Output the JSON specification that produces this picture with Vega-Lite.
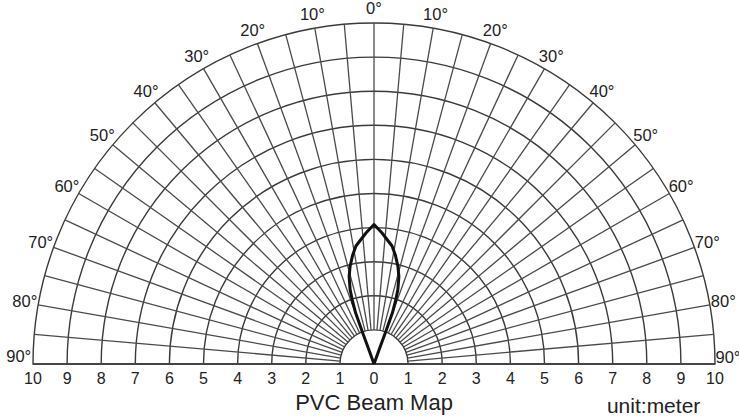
{
  "$schema": "https://vega.github.io/schema/vega-lite/v6.json",
  "width": 682,
  "height": 341,
  "autosize": {"type": "none"},
  "padding": {"left": 33, "top": 23, "right": 24, "bottom": 55},
  "background": "white",
  "config": {"view": {"stroke": null}},
  "layer": [
    {
      "data": {"values": [{"r": 1}, {"r": 2}, {"r": 3}, {"r": 4}, {"r": 5}, {"r": 6}, {"r": 7}, {"r": 8}, {"r": 9}, {"r": 10}]},
      "mark": {"type": "arc", "filled": false, "fill": null, "stroke": "#3a3a3a", "strokeWidth": 1.4, "theta": -1.5707963, "theta2": 1.5707963},
      "encoding": {
        "x": {"datum": 0, "type": "quantitative", "scale": {"domain": [-10, 10], "nice": false, "zero": false}, "axis": null},
        "y": {"datum": 0, "type": "quantitative", "scale": {"domain": [0, 10], "nice": false, "zero": false}, "axis": null},
        "radius": {"field": "r", "type": "quantitative", "stack": null, "scale": {"type": "linear", "domain": [0, 10], "range": [0, 341], "zero": true}, "legend": null}
      }
    },
    {
      "data": {"values": [
        {"a": -90, "x": -1, "y": 0, "x2": -10, "y2": 0},
        {"a": -85, "x": -0.99619, "y": 0.08716, "x2": -9.9619, "y2": 0.8716},
        {"a": -80, "x": -0.98481, "y": 0.17365, "x2": -9.8481, "y2": 1.7365},
        {"a": -75, "x": -0.96593, "y": 0.25882, "x2": -9.6593, "y2": 2.5882},
        {"a": -70, "x": -0.93969, "y": 0.34202, "x2": -9.3969, "y2": 3.4202},
        {"a": -65, "x": -0.90631, "y": 0.42262, "x2": -9.0631, "y2": 4.2262},
        {"a": -60, "x": -0.86603, "y": 0.5, "x2": -8.6603, "y2": 5},
        {"a": -55, "x": -0.81915, "y": 0.57358, "x2": -8.1915, "y2": 5.7358},
        {"a": -50, "x": -0.76604, "y": 0.64279, "x2": -7.6604, "y2": 6.4279},
        {"a": -45, "x": -0.70711, "y": 0.70711, "x2": -7.0711, "y2": 7.0711},
        {"a": -40, "x": -0.64279, "y": 0.76604, "x2": -6.4279, "y2": 7.6604},
        {"a": -35, "x": -0.57358, "y": 0.81915, "x2": -5.7358, "y2": 8.1915},
        {"a": -30, "x": -0.5, "y": 0.86603, "x2": -5, "y2": 8.6603},
        {"a": -25, "x": -0.42262, "y": 0.90631, "x2": -4.2262, "y2": 9.0631},
        {"a": -20, "x": -0.34202, "y": 0.93969, "x2": -3.4202, "y2": 9.3969},
        {"a": -15, "x": -0.25882, "y": 0.96593, "x2": -2.5882, "y2": 9.6593},
        {"a": -10, "x": -0.17365, "y": 0.98481, "x2": -1.7365, "y2": 9.8481},
        {"a": -5, "x": -0.08716, "y": 0.99619, "x2": -0.8716, "y2": 9.9619},
        {"a": 0, "x": 0, "y": 1, "x2": 0, "y2": 10},
        {"a": 5, "x": 0.08716, "y": 0.99619, "x2": 0.8716, "y2": 9.9619},
        {"a": 10, "x": 0.17365, "y": 0.98481, "x2": 1.7365, "y2": 9.8481},
        {"a": 15, "x": 0.25882, "y": 0.96593, "x2": 2.5882, "y2": 9.6593},
        {"a": 20, "x": 0.34202, "y": 0.93969, "x2": 3.4202, "y2": 9.3969},
        {"a": 25, "x": 0.42262, "y": 0.90631, "x2": 4.2262, "y2": 9.0631},
        {"a": 30, "x": 0.5, "y": 0.86603, "x2": 5, "y2": 8.6603},
        {"a": 35, "x": 0.57358, "y": 0.81915, "x2": 5.7358, "y2": 8.1915},
        {"a": 40, "x": 0.64279, "y": 0.76604, "x2": 6.4279, "y2": 7.6604},
        {"a": 45, "x": 0.70711, "y": 0.70711, "x2": 7.0711, "y2": 7.0711},
        {"a": 50, "x": 0.76604, "y": 0.64279, "x2": 7.6604, "y2": 6.4279},
        {"a": 55, "x": 0.81915, "y": 0.57358, "x2": 8.1915, "y2": 5.7358},
        {"a": 60, "x": 0.86603, "y": 0.5, "x2": 8.6603, "y2": 5},
        {"a": 65, "x": 0.90631, "y": 0.42262, "x2": 9.0631, "y2": 4.2262},
        {"a": 70, "x": 0.93969, "y": 0.34202, "x2": 9.3969, "y2": 3.4202},
        {"a": 75, "x": 0.96593, "y": 0.25882, "x2": 9.6593, "y2": 2.5882},
        {"a": 80, "x": 0.98481, "y": 0.17365, "x2": 9.8481, "y2": 1.7365},
        {"a": 85, "x": 0.99619, "y": 0.08716, "x2": 9.9619, "y2": 0.8716},
        {"a": 90, "x": 1, "y": 0, "x2": 10, "y2": 0}
      ]},
      "mark": {"type": "rule", "stroke": "#4a4a4a", "strokeWidth": 1.3},
      "encoding": {
        "x": {"field": "x", "type": "quantitative"},
        "y": {"field": "y", "type": "quantitative"},
        "x2": {"field": "x2"},
        "y2": {"field": "y2"}
      }
    },
    {
      "data": {"values": [{"x": -10, "x2": 10, "y": 0}]},
      "mark": {"type": "rule", "stroke": "#444", "strokeWidth": 1.5},
      "encoding": {
        "x": {"field": "x", "type": "quantitative"},
        "x2": {"field": "x2"},
        "y": {"field": "y", "type": "quantitative"}
      }
    },
    {
      "data": {"values": [
        {"o": 0, "x": 0, "y": 0},
        {"o": 1, "x": 0.15, "y": 0.42},
        {"o": 2, "x": 0.33, "y": 0.91},
        {"o": 3, "x": 0.54, "y": 1.5},
        {"o": 4, "x": 0.64, "y": 1.89},
        {"o": 5, "x": 0.7, "y": 2.18},
        {"o": 6, "x": 0.73, "y": 2.57},
        {"o": 7, "x": 0.7, "y": 2.87},
        {"o": 8, "x": 0.63, "y": 3.18},
        {"o": 9, "x": 0.53, "y": 3.46},
        {"o": 10, "x": 0.23, "y": 3.85},
        {"o": 11, "x": 0, "y": 4.09},
        {"o": 12, "x": -0.23, "y": 3.85},
        {"o": 13, "x": -0.53, "y": 3.46},
        {"o": 14, "x": -0.63, "y": 3.18},
        {"o": 15, "x": -0.7, "y": 2.87},
        {"o": 16, "x": -0.73, "y": 2.57},
        {"o": 17, "x": -0.7, "y": 2.18},
        {"o": 18, "x": -0.64, "y": 1.89},
        {"o": 19, "x": -0.54, "y": 1.5},
        {"o": 20, "x": -0.33, "y": 0.91},
        {"o": 21, "x": -0.15, "y": 0.42},
        {"o": 22, "x": 0, "y": 0}
      ]},
      "mark": {"type": "line", "stroke": "#111", "strokeWidth": 3, "strokeJoin": "round"},
      "encoding": {
        "x": {"field": "x", "type": "quantitative"},
        "y": {"field": "y", "type": "quantitative"},
        "order": {"field": "o", "type": "quantitative"}
      }
    },
    {
      "data": {"values": [
        {"x": -10, "t": "10"}, {"x": -9, "t": "9"}, {"x": -8, "t": "8"}, {"x": -7, "t": "7"}, {"x": -6, "t": "6"},
        {"x": -5, "t": "5"}, {"x": -4, "t": "4"}, {"x": -3, "t": "3"}, {"x": -2, "t": "2"}, {"x": -1, "t": "1"},
        {"x": 0, "t": "0"}, {"x": 1, "t": "1"}, {"x": 2, "t": "2"}, {"x": 3, "t": "3"}, {"x": 4, "t": "4"},
        {"x": 5, "t": "5"}, {"x": 6, "t": "6"}, {"x": 7, "t": "7"}, {"x": 8, "t": "8"}, {"x": 9, "t": "9"}, {"x": 10, "t": "10"}
      ]},
      "mark": {"type": "text", "font": "Liberation Sans", "fontSize": 16, "fill": "#222", "align": "center", "baseline": "middle", "dy": 15},
      "encoding": {
        "x": {"field": "x", "type": "quantitative"},
        "y": {"datum": 0, "type": "quantitative"},
        "text": {"field": "t"}
      }
    },
    {
      "data": {"values": [
        {"t": "0°", "x": 0, "y": 10.4},
        {"t": "10°", "x": -1.806, "y": 10.242}, {"t": "10°", "x": 1.806, "y": 10.242},
        {"t": "20°", "x": -3.557, "y": 9.773}, {"t": "20°", "x": 3.557, "y": 9.773},
        {"t": "30°", "x": -5.2, "y": 9.007}, {"t": "30°", "x": 5.2, "y": 9.007},
        {"t": "40°", "x": -6.685, "y": 7.967}, {"t": "40°", "x": 6.685, "y": 7.967},
        {"t": "50°", "x": -7.967, "y": 6.685}, {"t": "50°", "x": 7.967, "y": 6.685},
        {"t": "60°", "x": -9.007, "y": 5.2}, {"t": "60°", "x": 9.007, "y": 5.2},
        {"t": "70°", "x": -9.773, "y": 3.557}, {"t": "70°", "x": 9.773, "y": 3.557},
        {"t": "80°", "x": -10.242, "y": 1.806}, {"t": "80°", "x": 10.242, "y": 1.806},
        {"t": "90°", "x": -10.42, "y": 0.2}, {"t": "90°", "x": 10.38, "y": 0.17}
      ]},
      "mark": {"type": "text", "font": "Liberation Sans", "fontSize": 16.5, "fill": "#222", "align": "center", "baseline": "middle"},
      "encoding": {
        "x": {"field": "x", "type": "quantitative"},
        "y": {"field": "y", "type": "quantitative"},
        "text": {"field": "t"}
      }
    },
    {
      "data": {"values": [
        {"t": "PVC  Beam Map", "x": 0, "y": -1.13, "s": 22},
        {"t": "unit:meter", "x": 8.2, "y": -1.25, "s": 21}
      ]},
      "mark": {"type": "text", "font": "Liberation Sans", "fill": "#222", "align": "center", "baseline": "middle"},
      "encoding": {
        "x": {"field": "x", "type": "quantitative"},
        "y": {"field": "y", "type": "quantitative"},
        "text": {"field": "t"},
        "size": {"field": "s", "type": "quantitative", "scale": null, "legend": null}
      }
    }
  ]
}
